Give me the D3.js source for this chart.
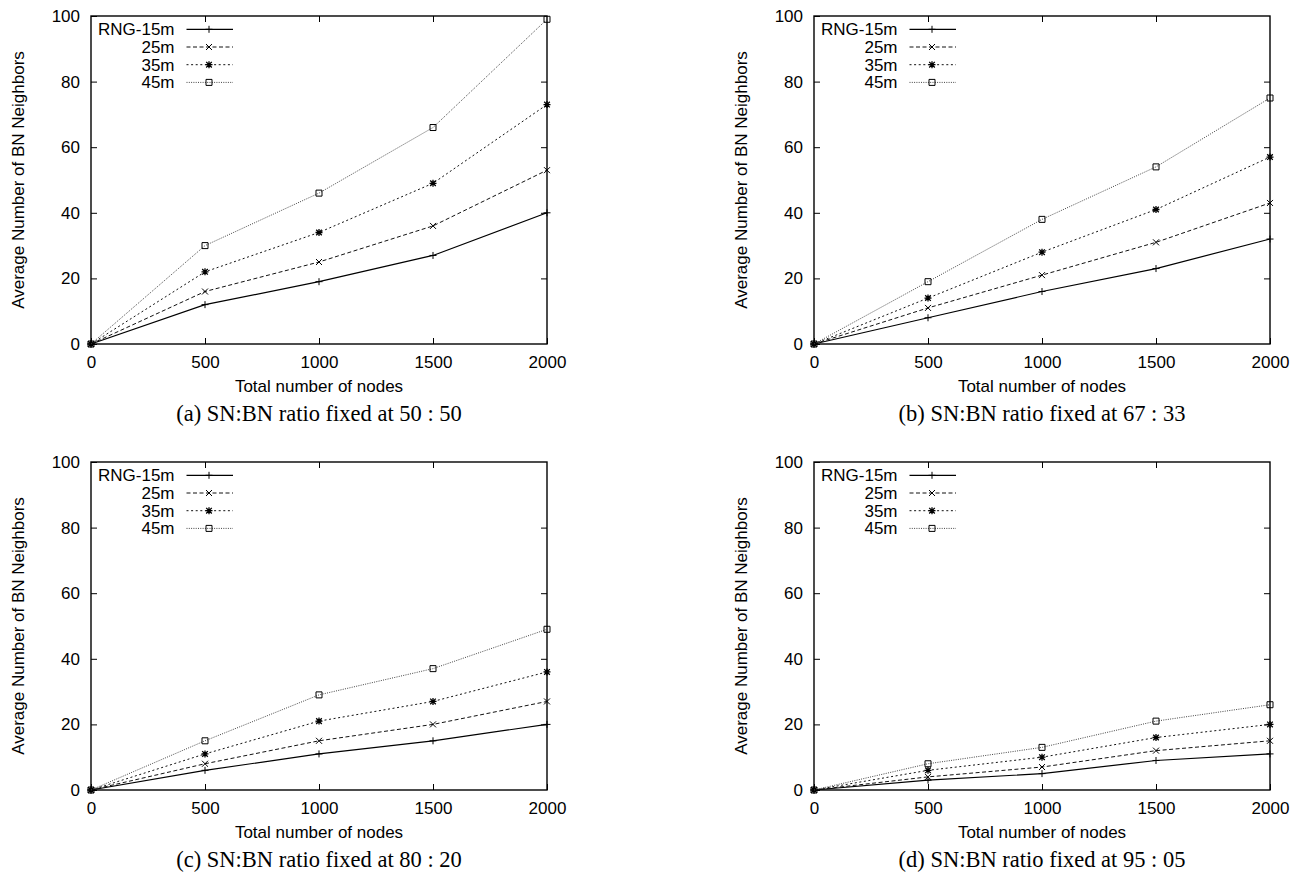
<!DOCTYPE html>
<html>
<head>
<meta charset="utf-8">
<script src="https://cdn.jsdelivr.net/npm/d3@7"></script>
<style>
  body { margin: 0; background: #fff; }
  svg { display: block; }
  .tick text { font-family: 'Liberation Sans', Arial, sans-serif; font-size: 17px; fill: #000; }
</style>
</head>
<body>
<svg id="chart" width="1301" height="883"></svg>
<script>
// values
const nodes = [0, 500, 1000, 1500, 2000]
const seriesNames = ['RNG-15m', '25m', '35m', '45m']
const xTickValues = [0, 500, 1000, 1500, 2000]
const yTickValues = [0, 20, 40, 60, 80, 100]

const ratio5050 = [
  [0, 12, 19, 27, 40],
  [0, 16, 25, 36, 53],
  [0, 22, 34, 49, 73],
  [0, 30, 46, 66, 99]
]
const ratio6733 = [
  [0, 8, 16, 23, 32],
  [0, 11, 21, 31, 43],
  [0, 14, 28, 41, 57],
  [0, 19, 38, 54, 75]
]
const ratio8020 = [
  [0, 6, 11, 15, 20],
  [0, 8, 15, 20, 27],
  [0, 11, 21, 27, 36],
  [0, 15, 29, 37, 49]
]
const ratio9505 = [
  [0, 3, 5, 9, 11],
  [0, 4, 7, 12, 15],
  [0, 6, 10, 16, 20],
  [0, 8, 13, 21, 26]
]
const captions = [
  '(a) SN:BN ratio fixed at 50 : 50',
  '(b) SN:BN ratio fixed at 67 : 33',
  '(c) SN:BN ratio fixed at 80 : 20',
  '(d) SN:BN ratio fixed at 95 : 05'
]
const xTitle = 'Total number of nodes'
const yTitle = 'Average Number of BN Neighbors'

// panel placement
const plotW = 456
const plotH = 328
const panels = [
  { left: 91, top: 16, data: ratio5050, caption: captions[0] },
  { left: 814, top: 16, data: ratio6733, caption: captions[1] },
  { left: 91, top: 462, data: ratio8020, caption: captions[2] },
  { left: 814, top: 462, data: ratio9505, caption: captions[3] }
]

// line styles per series (gnuplot-ish)
const dashes = [null, '4,2.5', '2,2.6', '1,1.3']
const strokes = ['#000', '#111', '#111', '#444']
const widths = [1.2, 1, 1, 1]
const markers = [
  'M-3.5,0H3.5M0,-3.5V3.5',
  'M-3,-3L3,3M-3,3L3,-3',
  'M-3.5,0H3.5M0,-3.5V3.5M-2.8,-2.8L2.8,2.8M-2.8,2.8L2.8,-2.8',
  'M-3,-3H3V3H-3Z'
]

const sans = "'Liberation Sans', Arial, sans-serif"
const svg = d3.select('#chart')
svg.append('rect').attr('width', 1301).attr('height', 883).attr('fill', '#fff')

panels.forEach(function (p) {
  drawPanel(p)
})

function drawPanel (p) {
  const x = d3.scaleLinear().domain([0, 2000]).range([0, plotW])
  const y = d3.scaleLinear().domain([0, 100]).range([plotH, 0])

  const g = svg.append('g')
    .attr('transform', 'translate(' + p.left + ',' + p.top + ')')

  // axes, ticks pointing inward on all four sides
  g.append('g')
    .attr('transform', `translate(0, ${plotH})`)
    .call(d3.axisBottom(x).tickValues(xTickValues).tickSize(-6).tickPadding(12).tickFormat(d3.format('d')))
    .call(a => a.select('.domain').remove())
  g.append('g')
    .call(d3.axisTop(x).tickValues(xTickValues.slice(1, -1)).tickSize(-6).tickFormat(''))
    .call(a => a.select('.domain').remove())
  g.append('g')
    .call(d3.axisLeft(y).tickValues(yTickValues).tickSize(-6).tickPadding(11))
    .call(a => a.select('.domain').remove())
  g.append('g')
    .attr('transform', `translate(${plotW}, 0)`)
    .call(d3.axisRight(y).tickValues(yTickValues.slice(1, -1)).tickSize(-6).tickFormat(''))
    .call(a => a.select('.domain').remove())
  g.selectAll('.tick line').attr('stroke', '#000').attr('stroke-width', 1)

  g.append('rect')
    .attr('width', plotW)
    .attr('height', plotH)
    .attr('fill', 'none')
    .attr('stroke', '#000')
    .attr('stroke-width', 1.4)

  // series
  const line = d3.line()
    .x((d, i) => x(nodes[i]))
    .y(d => y(d))
  p.data.forEach(function (vals, s) {
    g.append('path')
      .datum(vals)
      .attr('d', line)
      .attr('fill', 'none')
      .attr('stroke', strokes[s])
      .attr('stroke-width', widths[s])
      .attr('stroke-dasharray', dashes[s])
    g.selectAll(null)
      .data(vals)
      .enter()
      .append('path')
      .attr('transform', (d, i) => `translate(${x(nodes[i])},${y(d)})`)
      .attr('d', markers[s])
      .attr('fill', 'none')
      .attr('stroke', '#000')
      .attr('stroke-width', s === 2 ? 1.3 : 1)
  })

  // legend
  const legend = g.append('g')
  seriesNames.forEach(function (name, s) {
    const ly = 13.3 + s * 17.7
    legend.append('text')
      .attr('x', 83.5)
      .attr('y', ly)
      .attr('dy', '0.35em')
      .attr('text-anchor', 'end')
      .attr('font-family', sans)
      .attr('font-size', 17)
      .text(name)
    legend.append('line')
      .attr('x1', 95.5)
      .attr('x2', 142)
      .attr('y1', ly)
      .attr('y2', ly)
      .attr('stroke', strokes[s])
      .attr('stroke-width', widths[s])
      .attr('stroke-dasharray', dashes[s])
    legend.append('path')
      .attr('transform', `translate(118, ${ly})`)
      .attr('d', markers[s])
      .attr('fill', 'none')
      .attr('stroke', '#000')
      .attr('stroke-width', s === 2 ? 1.3 : 1)
  })

  // titles
  g.append('text')
    .attr('x', plotW / 2)
    .attr('y', plotH + 48)
    .attr('text-anchor', 'middle')
    .attr('font-family', sans)
    .attr('font-size', 17)
    .text(xTitle)
  g.append('text')
    .attr('transform', `translate(-67, ${plotH / 2}) rotate(-90)`)
    .attr('text-anchor', 'middle')
    .attr('font-family', sans)
    .attr('font-size', 17)
    .text(yTitle)

  // caption
  g.append('text')
    .attr('x', plotW / 2)
    .attr('y', plotH + 77)
    .attr('text-anchor', 'middle')
    .attr('font-family', "'Liberation Serif', 'Times New Roman', serif")
    .attr('font-size', 22.5)
    .text(p.caption)
}
</script>
</body>
</html>
